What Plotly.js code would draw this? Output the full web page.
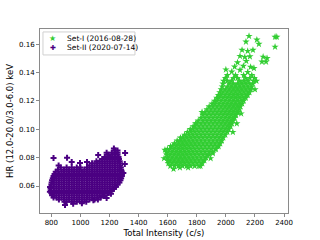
<!DOCTYPE html>
<html><head><meta charset="utf-8">
<script src="https://cdn.plot.ly/plotly-3.0.1.min.js"></script>
<style>html,body{margin:0;padding:0;background:#fff}#c{width:320px;height:240px}</style>
</head><body><div id="c"></div>
<script>
const seriesNames = ["Set-I (2016-08-28)", "Set-II (2020-07-14)"];

// Set-I (green stars): rows of [HR, [Total Intensity values...]]
const set1Rows = [
[0.074,[1618,1646,1674,1702,1730,1758,1786,1814,1825]],
[0.076,[1604,1632,1660,1688,1716,1744,1772,1800,1828,1838]],
[0.078,[1600,1618,1646,1674,1702,1730,1758,1786,1814,1842,1852]],
[0.080,[1597,1604,1632,1660,1688,1716,1744,1772,1800,1828,1856,1864]],
[0.082,[1593,1618,1646,1674,1702,1730,1758,1786,1814,1842,1870,1885]],
[0.084,[1590,1604,1632,1660,1688,1716,1744,1772,1800,1828,1856,1884,1910]],
[0.086,[1598,1618,1646,1674,1702,1730,1758,1786,1814,1842,1870,1898,1926,1932]],
[0.088,[1620,1632,1660,1688,1716,1744,1772,1800,1828,1856,1884,1912,1940,1950]],
[0.090,[1646,1674,1702,1730,1758,1786,1814,1842,1870,1898,1926,1954,1961]],
[0.092,[1665,1688,1716,1744,1772,1800,1828,1856,1884,1912,1940,1968,1972]],
[0.094,[1688,1702,1730,1758,1786,1814,1842,1870,1898,1926,1954,1982]],
[0.096,[1716,1744,1772,1800,1828,1856,1884,1912,1940,1968,1996]],
[0.098,[1735,1758,1786,1814,1842,1870,1898,1926,1954,1982,2010]],
[0.100,[1755,1772,1800,1828,1856,1884,1912,1940,1968,1996,2020]],
[0.102,[1775,1786,1814,1842,1870,1898,1926,1954,1982,2010,2032]],
[0.104,[1792,1800,1828,1856,1884,1912,1940,1968,1996,2024,2041]],
[0.106,[1810,1842,1870,1898,1926,1954,1982,2010,2038,2050]],
[0.108,[1828,1856,1884,1912,1940,1968,1996,2024,2052,2060]],
[0.110,[1842,1870,1898,1926,1954,1982,2010,2038,2066,2070]],
[0.112,[1856,1884,1912,1940,1968,1996,2024,2052,2080,2083]],
[0.114,[1870,1898,1926,1954,1982,2010,2038,2066,2093]],
[0.116,[1885,1912,1940,1968,1996,2024,2052,2080,2100]],
[0.118,[1905,1926,1954,1982,2010,2038,2066,2094,2112]],
[0.120,[1922,1940,1968,1996,2024,2052,2080,2108,2122]],
[0.122,[1937,1954,1982,2010,2038,2066,2094,2122,2137]],
[0.124,[1948,1968,1996,2024,2052,2080,2108,2136,2150]],
[0.126,[1958,1982,2010,2038,2066,2094,2122,2150,2162]],
[0.128,[1968,1996,2024,2052,2080,2108,2136,2164,2172]],
[0.130,[1975,2010,2038,2066,2094,2122,2150,2178]],
[0.132,[1980,2024,2052,2080,2108,2136,2164,2185]],
[0.134,[1985,2010,2038,2094,2122,2150,2190]],
[0.136,[1996,2052,2080,2136,2164,2196]],
[0.138,[2010,2066,2122,2178]]
];
// Set-I sparse points (outliers) read individually
const set1OutX = [2040,2097,2150,2193,2060,2120,2170,2248,2276,2080,2140,2097,2130,2165,2256,2283,2111,2150,2186,2138,2227,2338,2159,2213,2338,2350,1581,1684,1836,2000,
  2200,2210,1895,1910,1575,1640,1740,2105,2075,2048];
const set1OutY = [0.1405,0.1417,0.1402,0.1430,0.1440,0.1445,0.1438,0.1475,0.1475,0.1470,0.1480,0.1515,0.1508,0.1512,0.1510,0.1500,0.1558,0.1550,0.1558,0.1616,0.1600,0.1580,0.1656,0.1630,0.1650,0.1650,0.0854,0.0730,0.1120,0.1420,
  0.1280,0.1340,0.0795,0.0830,0.0795,0.0720,0.0730,0.1110,0.1040,0.0980];

// Set-II (purple crosses): rows of [HR, [Total Intensity values...]]
const set2Rows = [
[0.0490,[890,905,940,975,1010,1040]],
[0.0505,[852,887,922,957,992,1027,1062,1097]],
[0.0520,[815,835,870,905,940,975,1010,1045,1080,1115,1140]],
[0.0535,[805,817,852,887,922,957,992,1027,1062,1097,1132,1167]],
[0.0550,[800,835,870,905,940,975,1010,1045,1080,1115,1150,1185,1195]],
[0.0565,[797,817,852,887,922,957,992,1027,1062,1097,1132,1167,1202,1215]],
[0.0580,[795,835,870,905,940,975,1010,1045,1080,1115,1150,1185,1220,1230]],
[0.0595,[797,817,852,887,922,957,992,1027,1062,1097,1132,1167,1202,1237,1245]],
[0.0610,[800,835,870,905,940,975,1010,1045,1080,1115,1150,1185,1220,1255]],
[0.0625,[802,817,852,887,922,957,992,1027,1062,1097,1132,1167,1202,1237,1268]],
[0.0640,[805,835,870,905,940,975,1010,1045,1080,1115,1150,1185,1220,1255,1275]],
[0.0655,[810,817,852,887,922,957,992,1027,1062,1097,1132,1167,1202,1237,1272,1280]],
[0.0670,[815,835,870,905,940,975,1010,1045,1080,1115,1150,1185,1220,1255,1285]],
[0.0685,[822,852,887,922,957,992,1027,1062,1097,1132,1167,1202,1237,1272,1285]],
[0.0700,[830,870,905,940,975,1010,1045,1080,1115,1150,1185,1220,1255,1283]],
[0.0715,[845,887,922,957,992,1027,1062,1097,1132,1167,1202,1237,1272,1280]],
[0.0730,[865,905,940,975,1000,1045,1080,1115,1150,1185,1220,1255,1278]],
[0.0745,[1062,1097,1132,1167,1202,1237,1272]],
[0.0760,[1080,1115,1150,1185,1220,1255,1272]],
[0.0775,[1110,1132,1167,1202,1237,1270]],
[0.0790,[1150,1185,1220,1255,1265]],
[0.0805,[1167,1202,1237,1262]],
[0.0820,[1190,1220,1255]],
[0.0835,[1215,1237,1255]],
[0.0850,[1238,1255]]
];
const set2OutX = [815,908,940,997,1045,1122,1307,1295,1089,894,791,1180,1210,
  950,1010,1120,1160,1305,1230,1180,850,790];
const set2OutY = [0.0797,0.0800,0.0769,0.0762,0.0769,0.0818,0.0832,0.0692,0.0500,0.0466,0.0593,0.0515,0.0545,
  0.0475,0.0478,0.0505,0.0530,0.0755,0.0865,0.0835,0.0745,0.0560];

const xTicks = [800,1000,1200,1400,1600,1800,2000,2200,2400];
const yTicks = [0.06,0.08,0.10,0.12,0.14,0.16];

function flatten(rows, ox, oy) {
  const xs = [], ys = [];
  rows.forEach(([y, xl]) => xl.forEach(x => { xs.push(x); ys.push(y); }));
  return {x: xs.concat(ox), y: ys.concat(oy)};
}
const s1 = flatten(set1Rows, set1OutX, set1OutY);
const s2 = flatten(set2Rows, set2OutX, set2OutY);

const FONT = "DejaVu Sans, sans-serif";
const GREEN = "#32cd32", PURPLE = "#4b0082";
const traces = [
  {x: s1.x, y: s1.y, name: seriesNames[0], type: "scatter", mode: "markers",
   marker: {symbol: "star", size: 5.5, color: GREEN, line: {width: 0}}},
  {x: s2.x, y: s2.y, name: seriesNames[1], type: "scatter", mode: "markers",
   marker: {symbol: "cross", size: 5, color: PURPLE, line: {width: 0}}}
];
const axisCommon = {showgrid: false, zeroline: false, showline: true, mirror: true,
  linecolor: "#8a8a8a", linewidth: 1, ticks: "outside", ticklen: 3, tickcolor: "#8a8a8a",
  tickfont: {family: FONT, size: 7, color: "#000"}};
const layout = {
  width: 320, height: 240,
  margin: {l: 40, r: 32, t: 29, b: 27, pad: 0},
  paper_bgcolor: "#fff", plot_bgcolor: "#fff",
  showlegend: false,
  xaxis: Object.assign({}, axisCommon, {range: [722, 2427], tickvals: xTicks,
    ticktext: xTicks.map(String),
    title: {text: "Total Intensity (c/s)", font: {family: FONT, size: 8.5, color: "#000"}, standoff: 3}}),
  yaxis: Object.assign({}, axisCommon, {range: [0.041, 0.1706], tickvals: yTicks,
    ticktext: yTicks.map(v => v.toFixed(2)),
    title: {text: "HR (12.0-20.0/3.0-6.0) keV", font: {family: FONT, size: 8.5, color: "#000"}, standoff: 4}}),
  shapes: [{type: "rect", xref: "paper", yref: "paper", x0: 0.012, x1: 0.383, y0: 0.859, y1: 0.984,
    line: {color: "#d0d0d0", width: 1}, fillcolor: "rgba(255,255,255,0.8)"}],
  annotations: [
    {xref: "paper", yref: "paper", x: 0.052, y: 0.946, text: "★", showarrow: false,
     font: {family: FONT, size: 8, color: GREEN}, xanchor: "center", yanchor: "middle"},
    {xref: "paper", yref: "paper", x: 0.052, y: 0.897, text: "✚", showarrow: false,
     font: {family: FONT, size: 7, color: PURPLE}, xanchor: "center", yanchor: "middle"},
    {xref: "paper", yref: "paper", x: 0.102, y: 0.946, text: seriesNames[0], showarrow: false,
     font: {family: FONT, size: 7.5, color: "#000"}, xanchor: "left", yanchor: "middle"},
    {xref: "paper", yref: "paper", x: 0.102, y: 0.897, text: seriesNames[1], showarrow: false,
     font: {family: FONT, size: 7.5, color: "#000"}, xanchor: "left", yanchor: "middle"}
  ]
};
Plotly.newPlot("c", traces, layout, {staticPlot: true, displayModeBar: false});
</script></body></html>
